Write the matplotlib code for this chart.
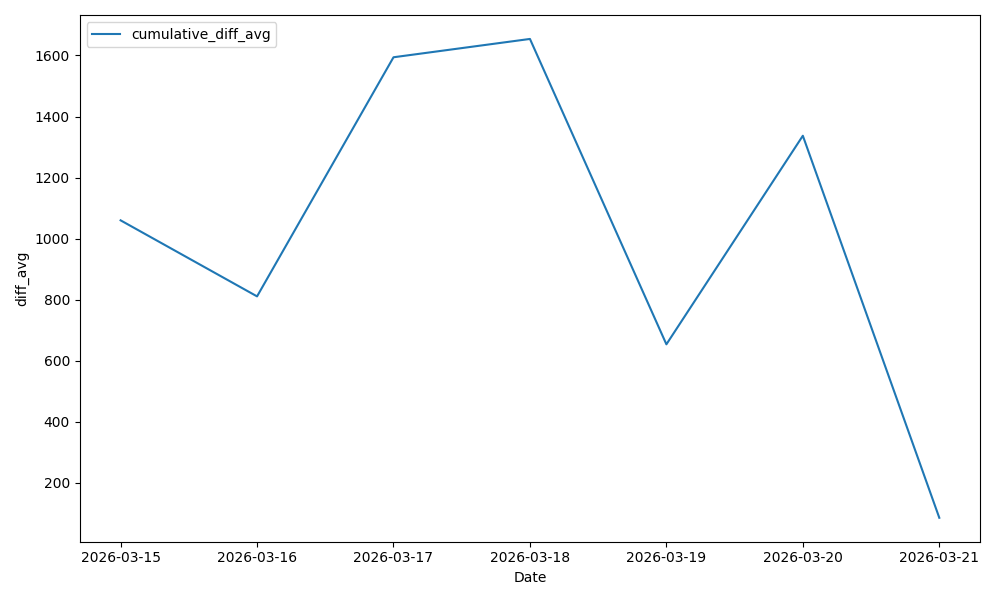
import pandas as pd
import matplotlib
matplotlib.use("Agg")
import matplotlib.pyplot as plt

dates = ["2026-03-15", "2026-03-16", "2026-03-17", "2026-03-18",
         "2026-03-19", "2026-03-20", "2026-03-21"]
cumulative_diff_avg = [1060, 811, 1594, 1654, 654, 1337, 86]

df = pd.DataFrame({"Date": pd.to_datetime(dates),
                   "cumulative_diff_avg": cumulative_diff_avg})

fig, ax = plt.subplots(figsize=(10, 6), dpi=100)
ax.plot(df["Date"], df["cumulative_diff_avg"], label="cumulative_diff_avg")
ax.set_xticks(df["Date"])
ax.set_xticklabels(dates)
ax.set_xlabel("Date")
ax.set_ylabel("diff_avg")
ax.legend(loc="upper left")
fig.tight_layout()
fig.savefig("out.png")
